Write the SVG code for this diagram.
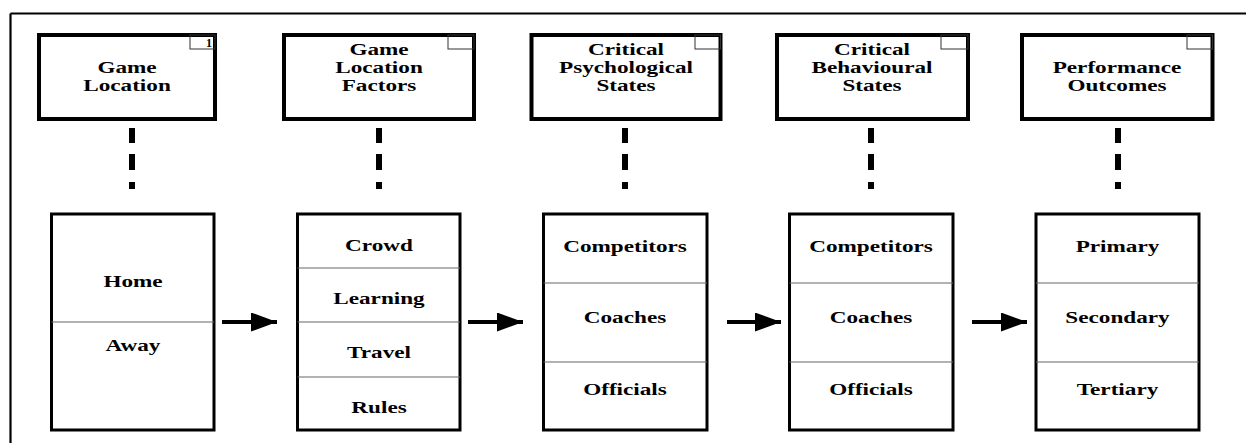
<svg xmlns="http://www.w3.org/2000/svg" width="1246" height="443" viewBox="0 0 1246 443">
<style>
.frame{stroke:#000;stroke-width:2.2;fill:none}
.hbox{fill:#fff;stroke:#000;stroke-width:4}
.corner{fill:none;stroke:#333;stroke-width:1}
.bbox{fill:#fff;stroke:#000;stroke-width:3}
.div{stroke:#666;stroke-width:1.2}
.dash{stroke:#000;stroke-width:6;stroke-dasharray:15 11 16 12 7}
.shaft{stroke:#000;stroke-width:4}
.t{font-family:"Liberation Serif","Times New Roman",serif;font-weight:bold;font-size:16px;fill:#000;text-anchor:middle}
.num{font-family:"Liberation Serif","Times New Roman",serif;font-weight:bold;font-size:12px;fill:#000;text-anchor:middle}
</style>
<defs>
<marker id="ah" markerUnits="userSpaceOnUse" markerWidth="27" markerHeight="20" refX="26" refY="9.5" orient="auto">
<path d="M0,0 L26,9.5 L0,19 z" fill="#000"/>
</marker>
</defs>
<rect width="1246" height="443" fill="#fff"/>
<g id="frame">
<line class="frame" x1="10.5" y1="13.5" x2="1246" y2="13.5"/>
<line class="frame" x1="10.5" y1="13.5" x2="10.5" y2="443"/>
</g>
<g id="connectors">
<line class="dash" x1="132" y1="128" x2="132" y2="189"/>
<line class="dash" x1="379" y1="128" x2="379" y2="189"/>
<line class="dash" x1="625" y1="128" x2="625" y2="189"/>
<line class="dash" x1="871" y1="128" x2="871" y2="189"/>
<line class="dash" x1="1118" y1="128" x2="1118" y2="189"/>
<line class="shaft" x1="222" y1="322" x2="277" y2="322" marker-end="url(#ah)"/>
<line class="shaft" x1="468" y1="322" x2="523" y2="322" marker-end="url(#ah)"/>
<line class="shaft" x1="727" y1="322" x2="781" y2="322" marker-end="url(#ah)"/>
<line class="shaft" x1="972" y1="322" x2="1027" y2="322" marker-end="url(#ah)"/>
</g>
<g id="h1">
<rect class="hbox" x="39" y="35" width="176" height="84"/>
<rect class="corner" x="190" y="35" width="25" height="14"/>
<text class="num" x="209" y="47">1</text>
<text class="t" transform="translate(127,73) scale(1.45,1)">Game</text>
<text class="t" transform="translate(127,91) scale(1.45,1)">Location</text>
</g>
<g id="h2">
<rect class="hbox" x="284" y="35" width="190" height="84"/>
<rect class="corner" x="448" y="35" width="26" height="14"/>
<text class="t" transform="translate(379,55) scale(1.45,1)">Game</text>
<text class="t" transform="translate(379,73) scale(1.45,1)">Location</text>
<text class="t" transform="translate(379,91) scale(1.45,1)">Factors</text>
</g>
<g id="h3">
<rect class="hbox" x="531.5" y="35" width="189" height="84"/>
<rect class="corner" x="695" y="35" width="25.5" height="14"/>
<text class="t" transform="translate(626,55) scale(1.45,1)">Critical</text>
<text class="t" transform="translate(626,73) scale(1.45,1)">Psychological</text>
<text class="t" transform="translate(626,91) scale(1.45,1)">States</text>
</g>
<g id="h4">
<rect class="hbox" x="777" y="35" width="191" height="84"/>
<rect class="corner" x="941" y="35" width="27" height="14"/>
<text class="t" transform="translate(872,55) scale(1.45,1)">Critical</text>
<text class="t" transform="translate(872,73) scale(1.45,1)">Behavioural</text>
<text class="t" transform="translate(872,91) scale(1.45,1)">States</text>
</g>
<g id="h5">
<rect class="hbox" x="1022" y="35" width="190.5" height="84"/>
<rect class="corner" x="1187" y="35" width="25.5" height="14"/>
<text class="t" transform="translate(1117,73) scale(1.45,1)">Performance</text>
<text class="t" transform="translate(1117,91) scale(1.45,1)">Outcomes</text>
</g>
<g id="b1">
<rect class="bbox" x="51.5" y="214" width="162.5" height="216"/>
<line class="div" x1="51.5" y1="322" x2="214" y2="322"/>
<text class="t" transform="translate(133,287) scale(1.45,1)">Home</text>
<text class="t" transform="translate(133,351) scale(1.45,1)">Away</text>
</g>
<g id="b2">
<rect class="bbox" x="297.5" y="214" width="162.5" height="216"/>
<line class="div" x1="297.5" y1="268" x2="460" y2="268"/>
<line class="div" x1="297.5" y1="322" x2="460" y2="322"/>
<line class="div" x1="297.5" y1="377" x2="460" y2="377"/>
<text class="t" transform="translate(379,251) scale(1.45,1)">Crowd</text>
<text class="t" transform="translate(379,304) scale(1.45,1)">Learning</text>
<text class="t" transform="translate(379,358) scale(1.45,1)">Travel</text>
<text class="t" transform="translate(379,413) scale(1.45,1)">Rules</text>
</g>
<g id="b3">
<rect class="bbox" x="543.5" y="214" width="163.5" height="216"/>
<line class="div" x1="543.5" y1="283" x2="707" y2="283"/>
<line class="div" x1="543.5" y1="362" x2="707" y2="362"/>
<text class="t" transform="translate(625,252) scale(1.45,1)">Competitors</text>
<text class="t" transform="translate(625,323) scale(1.45,1)">Coaches</text>
<text class="t" transform="translate(625,395) scale(1.45,1)">Officials</text>
</g>
<g id="b4">
<rect class="bbox" x="789.5" y="214" width="163.5" height="216"/>
<line class="div" x1="789.5" y1="283" x2="953" y2="283"/>
<line class="div" x1="789.5" y1="362" x2="953" y2="362"/>
<text class="t" transform="translate(871,252) scale(1.45,1)">Competitors</text>
<text class="t" transform="translate(871,323) scale(1.45,1)">Coaches</text>
<text class="t" transform="translate(871,395) scale(1.45,1)">Officials</text>
</g>
<g id="b5">
<rect class="bbox" x="1036" y="214" width="163" height="216"/>
<line class="div" x1="1036" y1="283" x2="1199" y2="283"/>
<line class="div" x1="1036" y1="362" x2="1199" y2="362"/>
<text class="t" transform="translate(1117.5,252) scale(1.45,1)">Primary</text>
<text class="t" transform="translate(1117.5,323) scale(1.45,1)">Secondary</text>
<text class="t" transform="translate(1117.5,395) scale(1.45,1)">Tertiary</text>
</g>
</svg>
